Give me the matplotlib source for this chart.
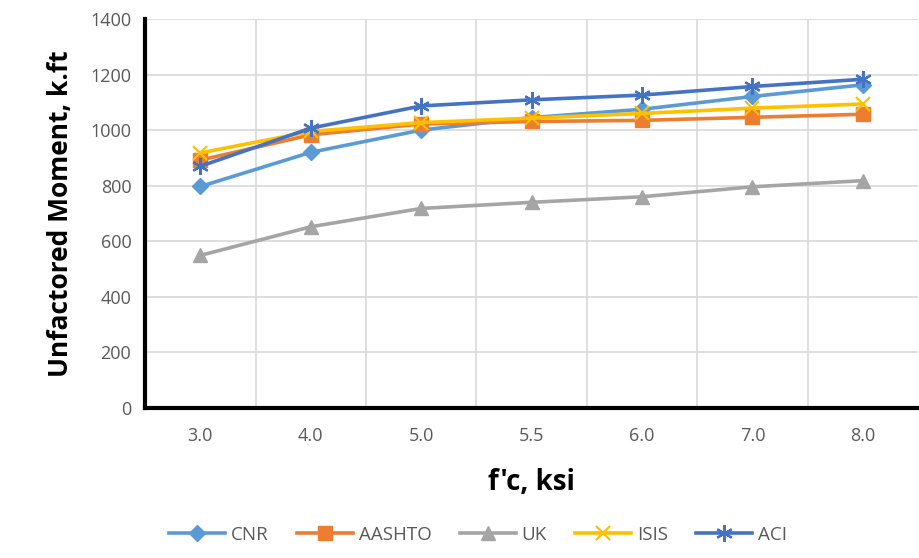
import matplotlib
matplotlib.use("Agg")
import matplotlib.pyplot as plt

categories = ["3.0", "4.0", "5.0", "5.5", "6.0", "7.0", "8.0"]
cnr = [797, 920, 1000, 1045, 1075, 1121, 1163]
aashto = [892, 983, 1022, 1031, 1035, 1046, 1057]
uk = [549, 652, 718, 740, 760, 796, 818]
isis = [918, 995, 1027, 1043, 1060, 1079, 1094]
aci = [870, 1007, 1087, 1109, 1126, 1157, 1183]

series = [
    ("CNR", cnr, "#5B9BD5", "D", 8.5),
    ("AASHTO", aashto, "#ED7D31", "s", 9.5),
    ("UK", uk, "#A5A5A5", "^", 10),
    ("ISIS", isis, "#FFC000", "x", 10),
    ("ACI", aci, "#4472C4", (6, 2, 0), 12),
]

plt.rcParams['font.family'] = ['Open Sans', 'DejaVu Sans']
fig = plt.figure(figsize=(9.19, 5.58), dpi=100)
ax = fig.add_axes([0.158, 0.269, 0.841, 0.697])
x = list(range(len(categories)))
for name, vals, col, mk, ms in series:
    ax.plot(x, vals, color=col, lw=2.6, marker=mk, markersize=ms,
            markeredgewidth=1.6 if mk in ("x",) or isinstance(mk, tuple) else 1,
            markeredgecolor=col, markerfacecolor=col, label=name)

ax.set_xlim(-0.5, len(categories) - 0.5)
ax.set_ylim(0, 1400)
ax.set_yticks(range(0, 1401, 200))
ax.set_xticks(x)
ax.set_xticklabels(categories)
ax.set_xticks([i + 0.5 for i in range(len(categories) - 1)], minor=True)
ax.grid(False)
ax.yaxis.grid(True, color="#D9D9D9", lw=1.2)
ax.xaxis.grid(True, which="minor", color="#D9D9D9", lw=1.2)
ax.set_axisbelow(True)
for s in ["top", "right"]:
    ax.spines[s].set_visible(False)
for s in ["left", "bottom"]:
    ax.spines[s].set_linewidth(3)
    ax.spines[s].set_color("black")
ax.tick_params(axis="both", which="both", length=0, colors="#595959", labelsize=13, pad=10)
ax.tick_params(axis="x", pad=14)
ax.set_ylabel("Unfactored Moment, k.ft", fontsize=19, fontweight="bold", labelpad=12)
ax.set_xlabel("f'c, ksi", fontsize=20, fontweight="bold", labelpad=16)
fig.legend(loc="lower center", bbox_to_anchor=(0.52, -0.005), ncol=5, frameon=False,
           fontsize=13.5, labelcolor="#595959", handlelength=3, columnspacing=1.5,
           handletextpad=0.3)
fig.savefig("out.png", dpi=100)
